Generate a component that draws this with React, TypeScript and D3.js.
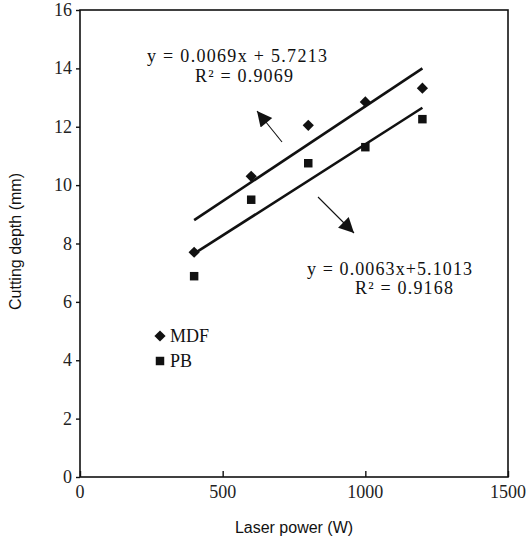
import React, { useEffect, useRef } from 'react';
import * as d3 from 'd3';

const powers = [400, 600, 800, 1000, 1200];
const mdfDepth = [7.7, 10.3, 12.05, 12.85, 13.32];
const pbDepth = [6.88, 9.5, 10.75, 11.3, 12.26];
// trend lines as drawn (ends at 400 W and 1200 W)
const fitPowers = [400, 1200];
const mdfFit = [8.8, 14.0];
const pbFit = [7.65, 12.65];
const xTicks = [0, 500, 1000, 1500];
const yTicks = [0, 2, 4, 6, 8, 10, 12, 14, 16];

const SERIF = '"Liberation Serif", "DejaVu Serif", serif';
const SANS = '"Liberation Sans", Arial, sans-serif';

const App = () => {
  const svgRef = useRef<SVGSVGElement>(null);

  useEffect(() => {
    const svg = d3.select(svgRef.current);
    svg.selectAll('*').remove();

    const x = d3.scaleLinear().domain([0, 1500]).range([80, 508]);
    const y = d3.scaleLinear().domain([0, 16]).range([477, 10]);

    // frame
    svg
      .append('rect')
      .attr('x', x(0))
      .attr('y', y(16))
      .attr('width', x(1500) - x(0))
      .attr('height', y(0) - y(16))
      .attr('fill', 'none')
      .attr('stroke', '#111')
      .attr('stroke-width', 1.6);

    // y axis (ticks only, labels added below)
    const gy = svg
      .append('g')
      .attr('transform', `translate(${x(0)},0)`)
      .call(d3.axisLeft(y).tickValues(yTicks).tickSize(4).tickFormat(() => ''));
    gy.select('.domain').remove();
    gy.selectAll('line').attr('stroke', '#111').attr('stroke-width', 1.4);

    svg
      .selectAll('.ylab')
      .data(yTicks)
      .enter()
      .append('text')
      .attr('class', 'ylab')
      .attr('x', x(0) - 8)
      .attr('y', d => y(d) + 6)
      .attr('text-anchor', 'end')
      .attr('font-family', SERIF)
      .attr('font-size', 18)
      .attr('fill', '#222')
      .text(d => d);

    // x axis, ticks point inward
    const gx = svg
      .append('g')
      .attr('transform', `translate(0,${y(0)})`)
      .call(d3.axisBottom(x).tickValues(xTicks).tickSizeInner(-6).tickSizeOuter(0).tickFormat(() => ''));
    gx.select('.domain').remove();
    gx.selectAll('line').attr('stroke', '#111').attr('stroke-width', 1.4);

    svg
      .selectAll('.xlab')
      .data(xTicks)
      .enter()
      .append('text')
      .attr('class', 'xlab')
      .attr('x', d => x(d))
      .attr('y', y(0) + 21)
      .attr('text-anchor', 'middle')
      .attr('font-family', SERIF)
      .attr('font-size', 18)
      .attr('fill', '#222')
      .text(d => d);

    // axis titles
    svg
      .append('text')
      .attr('x', (x(0) + x(1500)) / 2)
      .attr('y', 533)
      .attr('text-anchor', 'middle')
      .attr('font-family', SANS)
      .attr('font-size', 16)
      .attr('fill', '#111')
      .text('Laser power (W)');

    svg
      .append('text')
      .attr('transform', `translate(21,${y(8) - 2}) rotate(-90)`)
      .attr('text-anchor', 'middle')
      .attr('font-family', SANS)
      .attr('font-size', 16)
      .attr('fill', '#111')
      .text('Cutting depth (mm)');

    // trend lines
    const line = d3
      .line<number>()
      .x((d, i) => x(fitPowers[i]))
      .y(d => y(d));
    [mdfFit, pbFit].forEach(fit => {
      svg
        .append('path')
        .attr('d', line(fit))
        .attr('fill', 'none')
        .attr('stroke', '#111')
        .attr('stroke-width', 2.6);
    });

    // points
    const diamond = d3.symbol().type(d3.symbolDiamond2).size(80);
    const square = d3.symbol().type(d3.symbolSquare).size(72);
    svg
      .selectAll('.mdf')
      .data(powers)
      .enter()
      .append('path')
      .attr('class', 'mdf')
      .attr('transform', (d, i) => `translate(${x(d)},${y(mdfDepth[i])})`)
      .attr('d', diamond())
      .attr('fill', '#111');
    svg
      .selectAll('.pb')
      .data(powers)
      .enter()
      .append('path')
      .attr('class', 'pb')
      .attr('transform', (d, i) => `translate(${x(d)},${y(pbDepth[i])})`)
      .attr('d', square())
      .attr('fill', '#111');

    // legend
    const legend = [
      { label: 'MDF', sym: diamond, ly: 336 },
      { label: 'PB', sym: square, ly: 361 },
    ];
    legend.forEach(l => {
      svg
        .append('path')
        .attr('transform', `translate(160,${l.ly})`)
        .attr('d', l.sym())
        .attr('fill', '#111');
      svg
        .append('text')
        .attr('x', 170)
        .attr('y', l.ly + 6)
        .attr('font-family', SERIF)
        .attr('font-size', 18)
        .attr('fill', '#111')
        .text(l.label);
    });

    // equations
    const notes = [
      { t: 'y = 0.0069x + 5.7213', x: 147, y: 62, w: 180 },
      { t: 'R² = 0.9069', x: 195, y: 82, w: 98 },
      { t: 'y = 0.0063x+5.1013', x: 307, y: 275, w: 165 },
      { t: 'R² = 0.9168', x: 355, y: 294, w: 98 },
    ];
    notes.forEach(n => {
      svg
        .append('text')
        .attr('x', n.x)
        .attr('y', n.y)
        .attr('textLength', n.w)
        .attr('lengthAdjust', 'spacing')
        .attr('font-family', SERIF)
        .attr('font-size', 18)
        .attr('fill', '#111')
        .text(n.t);
    });

    // arrows
    svg
      .append('defs')
      .append('marker')
      .attr('id', 'head')
      .attr('viewBox', '0 0 10 10')
      .attr('refX', 10)
      .attr('refY', 5)
      .attr('markerUnits', 'userSpaceOnUse')
      .attr('markerWidth', 22)
      .attr('markerHeight', 15)
      .attr('orient', 'auto')
      .append('path')
      .attr('d', 'M0,0L10,5L0,10Z')
      .attr('fill', '#111');
    const arrows = [
      [282, 142, 257, 111],
      [318, 197, 354, 233],
    ];
    arrows.forEach(a => {
      svg
        .append('line')
        .attr('x1', a[0])
        .attr('y1', a[1])
        .attr('x2', a[2])
        .attr('y2', a[3])
        .attr('stroke', '#111')
        .attr('stroke-width', 1.1)
        .attr('marker-end', 'url(#head)');
    });
  }, []);

  return (
    <svg
      ref={svgRef}
      width={527}
      height={543}
      style={{ position: 'absolute', left: 0, top: 0, background: '#fff' }}
    ></svg>
  );
};

export default App;
